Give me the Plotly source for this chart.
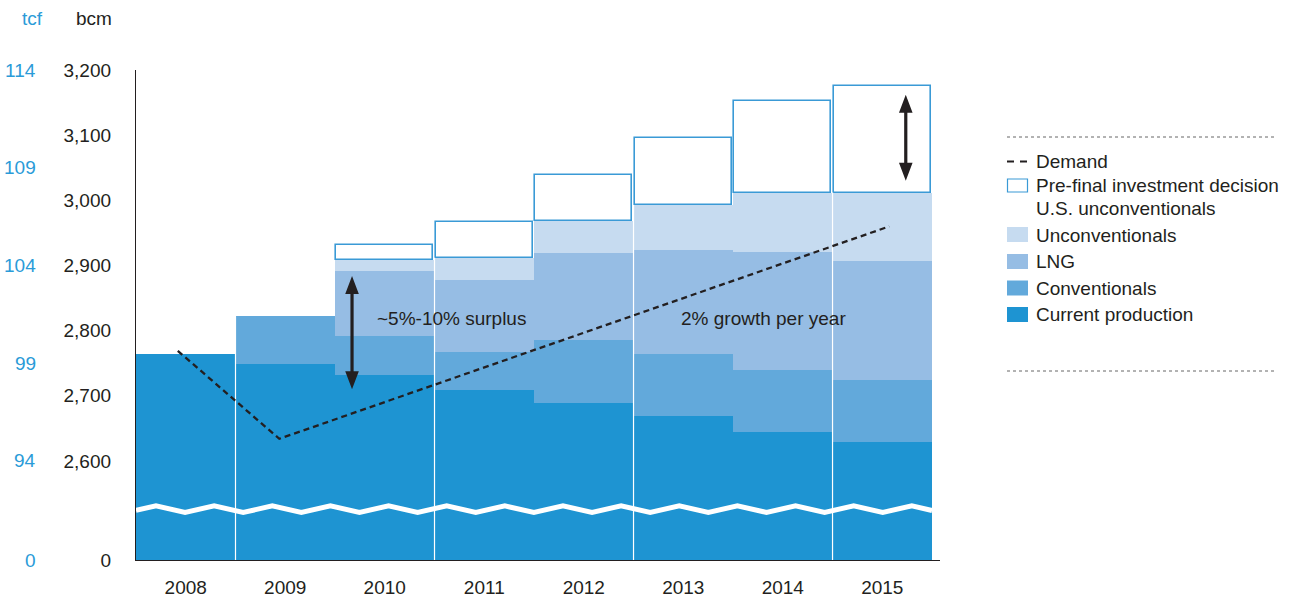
import numpy as np
import plotly.graph_objects as go

# ---------------- data (bcm) ----------------
years = [2008, 2009, 2010, 2011, 2012, 2013, 2014, 2015]
current_production = [2764, 2749, 2732, 2709, 2689, 2669, 2645, 2629]
conventionals = [0, 73, 60, 58, 97, 95, 95, 95]
lng = [0, 0, 100, 110, 133, 160, 181, 183]
unconventionals = [0, 0, 16, 35, 49, 69, 90, 105]
pre_fid = [0, 0, 24, 55, 71, 102, 142, 163]

demand_x = [2007.92, 2008.94, 2015.07]
demand = [2769, 2634, 2960]

bcm_ticks = [2600, 2700, 2800, 2900, 3000, 3100, 3200]
bcm_labels = ["2,600", "2,700", "2,800", "2,900", "3,000", "3,100", "3,200"]
tcf_ticks = [2600, 2750, 2900, 3050, 3200]
tcf_labels = ["94", "99", "104", "109", "114"]

# ---------------- styling / layout constants ----------------
FONT = "Liberation Sans, Arial, Helvetica, sans-serif"
TXT = "#231f20"
BLUE_TXT = "#2a9bd8"
C_CUR = "#1e94d2"
C_CONV = "#62a9db"
C_LNG = "#96bde4"
C_UNC = "#c6dbf0"
C_FID = "#3a9ad6"
FS = 19

W, H = 1298, 602
L, R, T, B = 136, 358, 70, 42
PW, PH = W - L - R, H - T - B
Y_BOTTOM = 2448          # broken axis: this value is displayed as 0
Y_TOP = 3200
X0, X1 = 2007.5, 2015.58

px_x = PW / (X1 - X0)        # pixels per year
px_y = PH / (Y_TOP - Y_BOTTOM)  # pixels per bcm


def none_if_zero(v):
    return [x if x else None for x in v]


# cumulative bases
cur = np.array(current_production, float)
base_conv = cur
base_lng = base_conv + np.array(conventionals)
base_unc = base_lng + np.array(lng)
base_fid = base_unc + np.array(unconventionals)

fig = go.Figure()

fig.add_trace(go.Bar(x=years, y=cur - Y_BOTTOM, base=Y_BOTTOM, width=1,
                     marker=dict(color=C_CUR, line=dict(width=0)), name="Current production"))
fig.add_trace(go.Bar(x=years, y=none_if_zero(conventionals), base=base_conv, width=1,
                     marker=dict(color=C_CONV, line=dict(width=0)), name="Conventionals"))
fig.add_trace(go.Bar(x=years, y=none_if_zero(lng), base=base_lng, width=1,
                     marker=dict(color=C_LNG, line=dict(width=0)), name="LNG"))
fig.add_trace(go.Bar(x=years, y=none_if_zero(unconventionals), base=base_unc, width=1,
                     marker=dict(color=C_UNC, line=dict(width=0)), name="Unconventionals"))
fig.add_trace(go.Bar(x=years, y=none_if_zero(pre_fid), base=base_fid, width=0.975,
                     marker=dict(color="white", line=dict(width=1.6, color=C_FID)),
                     name="Pre-final investment decision U.S. unconventionals"))

# white separators every two years
sx, sy = [], []
for i in range(0, len(years) - 1, 2):
    b = (years[i] + years[i + 1]) / 2
    top = max(base_fid[i], base_fid[i + 1])
    sx += [b, b, None]
    sy += [Y_BOTTOM, top, None]
fig.add_trace(go.Scatter(x=sx, y=sy, mode="lines", line=dict(color="white", width=1.2),
                         hoverinfo="skip"))

# axis-break zig-zag (white)
hi, lo = 2531, 2521
peak0 = X0 + 20 / px_x
half = 29.07 / px_x
k0 = int(np.floor((X0 - peak0) / half)) - 1
verts = [peak0 + k * half for k in range(k0, k0 + 60)]
wx = [X0] + [v for v in verts if X0 < v < 2015.5] + [2015.5]


def tri(x):
    ph = ((x - peak0) / (2 * half)) % 1.0
    d = 2 * min(ph, 1 - ph)
    return hi - (hi - lo) * d


wy = [tri(x) for x in wx]
fig.add_trace(go.Scatter(x=wx, y=wy, mode="lines", line=dict(color="white", width=5),
                         hoverinfo="skip"))

# demand line
fig.add_trace(go.Scatter(x=demand_x, y=demand, mode="lines",
                         line=dict(color=TXT, width=2.3, dash="6px,4px"), name="Demand"))

shapes = []


def arrow_path(xc, y_top, y_bot, shaft=1.6, head_w=6.8, head_l=18):
    dx = lambda p: p / px_x
    dy = lambda p: p / px_y
    pts = [
        (xc, y_top),
        (xc + dx(head_w), y_top - dy(head_l)),
        (xc + dx(shaft), y_top - dy(head_l)),
        (xc + dx(shaft), y_bot + dy(head_l)),
        (xc + dx(head_w), y_bot + dy(head_l)),
        (xc, y_bot),
        (xc - dx(head_w), y_bot + dy(head_l)),
        (xc - dx(shaft), y_bot + dy(head_l)),
        (xc - dx(shaft), y_top - dy(head_l)),
        (xc - dx(head_w), y_top - dy(head_l)),
    ]
    return "M" + " L".join(f"{a},{b}" for a, b in pts) + " Z"


for xc, yt, yb in [(2009.671, 2884, 2710), (2015.236, 3162, 3030)]:
    shapes.append(dict(type="path", path=arrow_path(xc, yt, yb), xref="x", yref="y",
                       fillcolor=TXT, line=dict(width=0), layer="above"))


def pxx(p):
    return (p - L) / PW


def pxy(p):
    return (H - B - p) / PH


# legend (manual)
LX0, LX1 = 1007, 1028
shapes.append(dict(type="line", xref="paper", yref="paper", x0=pxx(1007), x1=pxx(1276),
                   y0=pxy(137), y1=pxy(137), line=dict(color="#666", width=1, dash="dot")))
shapes.append(dict(type="line", xref="paper", yref="paper", x0=pxx(1007), x1=pxx(1276),
                   y0=pxy(371), y1=pxy(371), line=dict(color="#666", width=1, dash="dot")))
shapes.append(dict(type="line", xref="paper", yref="paper", x0=pxx(LX0), x1=pxx(LX1),
                   y0=pxy(161.5), y1=pxy(161.5), line=dict(color=TXT, width=2, dash="7px,6px")))
shapes.append(dict(type="rect", xref="paper", yref="paper", x0=pxx(LX0 + 0.5), x1=pxx(LX1 - 0.5),
                   y0=pxy(192), y1=pxy(179), fillcolor="white", line=dict(color=C_FID, width=1.2)))
for col, yc in [(C_UNC, 234.5), (C_LNG, 261.5), (C_CONV, 288), (C_CUR, 314.5)]:
    shapes.append(dict(type="rect", xref="paper", yref="paper", x0=pxx(LX0), x1=pxx(LX1),
                       y0=pxy(yc + 7.5), y1=pxy(yc - 7.5), fillcolor=col, line=dict(width=0)))

annotations = []
leg_items = [("Demand", 161), ("Pre-final investment decision", 185.5),
             ("U.S. unconventionals", 209), ("Unconventionals", 235), ("LNG", 261.5),
             ("Conventionals", 288), ("Current production", 314.5)]
for txt, yc in leg_items:
    annotations.append(dict(text=txt, xref="paper", yref="paper", x=pxx(1034), y=pxy(yc),
                            xanchor="left", yanchor="middle", showarrow=False,
                            font=dict(size=FS, color=TXT)))

# headers
annotations.append(dict(text="bcm", xref="paper", yref="paper", x=pxx(114), y=pxy(18),
                        xanchor="right", yanchor="middle", showarrow=False,
                        font=dict(size=FS, color=TXT)))
annotations.append(dict(text="tcf", xref="paper", yref="paper", x=pxx(45), y=pxy(18),
                        xanchor="right", yanchor="middle", showarrow=False,
                        font=dict(size=FS, color=BLUE_TXT)))
# tcf tick labels
for v, t in zip([Y_BOTTOM] + tcf_ticks, ["0"] + tcf_labels):
    annotations.append(dict(text=t, xref="paper", yref="y", x=pxx(38), y=v,
                            xanchor="right", yanchor="middle", showarrow=False,
                            font=dict(size=FS, color=BLUE_TXT)))

# in-chart labels
annotations.append(dict(text="~5%-10% surplus", xref="x", yref="y", x=2009.90, y=2818,
                        xanchor="left", yanchor="middle", showarrow=False,
                        font=dict(size=FS, color=TXT)))
annotations.append(dict(text="2% growth per year", xref="x", yref="y", x=2012.955, y=2818,
                        xanchor="left", yanchor="middle", showarrow=False,
                        font=dict(size=FS, color=TXT)))

fig.update_layout(
    width=W, height=H,
    margin=dict(l=L, r=R, t=T, b=B, pad=0, autoexpand=False),
    paper_bgcolor="white", plot_bgcolor="white",
    font=dict(family=FONT, size=FS, color=TXT),
    barmode="overlay", bargap=0,
    showlegend=False,
    shapes=shapes,
    annotations=annotations,
    xaxis=dict(range=[X0, X1], tickvals=years, ticktext=[str(y) for y in years],
               showgrid=False, zeroline=False, showline=True, linecolor=TXT, linewidth=1.3,
               ticks="", ticklabelstandoff=10, fixedrange=True, automargin=False),
    yaxis=dict(range=[Y_BOTTOM, Y_TOP], tickvals=[Y_BOTTOM] + bcm_ticks,
               ticktext=["0"] + bcm_labels, showgrid=False, zeroline=False,
               showline=True, linecolor=TXT, linewidth=1.3, ticks="",
               ticklabelstandoff=20, fixedrange=True, automargin=False),
)

fig.write_html("out.html")
